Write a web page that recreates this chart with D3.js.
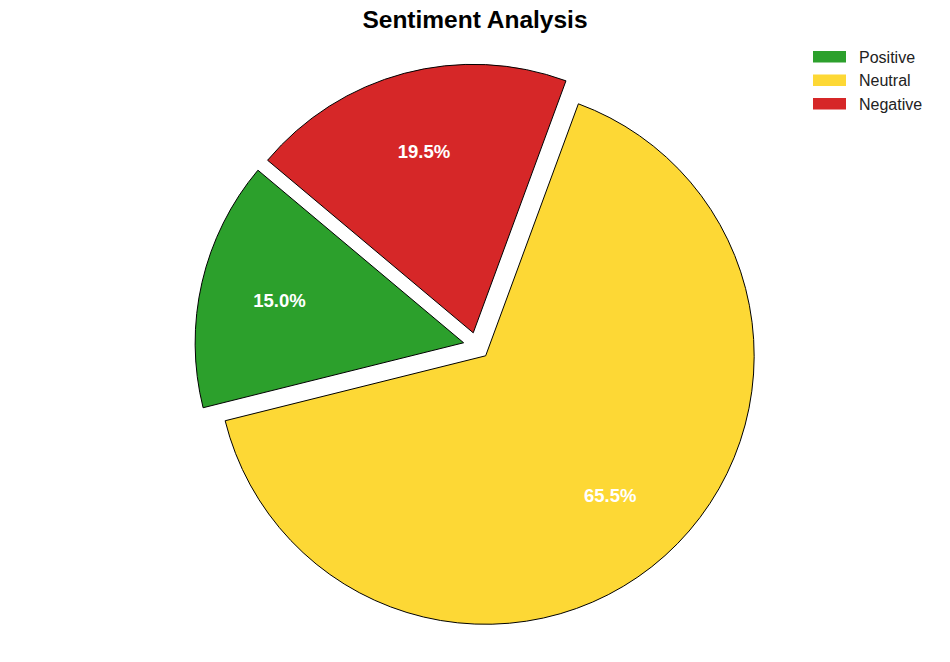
<!DOCTYPE html>
<html><head><meta charset="utf-8">
<script src="https://cdn.jsdelivr.net/npm/d3@7"></script>
<style>body{margin:0;background:#fff;}svg{display:block;font-family:"Liberation Sans",Arial,sans-serif;}</style>
</head><body>
<svg id="chart" width="950" height="662"></svg>
<script>
const categories = ["Positive", "Neutral", "Negative"];
const values = [15.0, 65.5, 19.5];
const colors = ["#2ca02c", "#fdd835", "#d62728"];
const explode = [0.05, 0.05, 0.05];

const svg = d3.select("#chart");
const cx = 476.7, cy = 345.8, r = 268.5;
const startDeg = 140; // matplotlib startangle, counterclockwise
const a0 = (90 - startDeg) * Math.PI / 180;

const pie = d3.pie().sort(null).value(d => d).startAngle(a0).endAngle(a0 - 2 * Math.PI);
const arcs = pie(values);
const arc = d3.arc().innerRadius(0).outerRadius(r);
const total = d3.sum(values);
const fs = 18.5;

const g = svg.append("g").attr("transform", `translate(${cx},${cy})`);
arcs.forEach((a, i) => {
  const mid = (a.startAngle + a.endAngle) / 2;
  const e = explode[i] * r;
  const ox = Math.sin(mid) * e, oy = -Math.cos(mid) * e;
  const sg = g.append("g").attr("transform", `translate(${ox},${oy})`);
  sg.append("path").attr("d", arc(a)).attr("fill", colors[i])
    .attr("stroke", "#000").attr("stroke-width", 1).attr("stroke-linejoin", "miter");
  const lr = 0.7 * r;
  sg.append("text").attr("x", Math.sin(mid) * lr - 1).attr("y", -Math.cos(mid) * lr + 0.36 * fs)
    .attr("text-anchor", "middle")
    .attr("fill", "#fff").attr("font-weight", "bold").attr("font-size", fs + "px")
    .text((values[i] / total * 100).toFixed(1) + "%");
});

svg.append("text").attr("x", 475).attr("y", 28).attr("text-anchor", "middle")
  .attr("font-weight", "bold").attr("font-size", "24.5px").attr("fill", "#000")
  .text("Sentiment Analysis");

const leg = svg.append("g").attr("transform", "translate(813,51)");
categories.forEach((c, i) => {
  const y = i * 23.5;
  leg.append("rect").attr("x", 0).attr("y", y).attr("width", 33).attr("height", 11.5).attr("fill", colors[i]);
  leg.append("text").attr("x", 46).attr("y", y + 11.5).attr("font-size", "16px").attr("fill", "#222").text(c);
});
</script>
</body></html>
